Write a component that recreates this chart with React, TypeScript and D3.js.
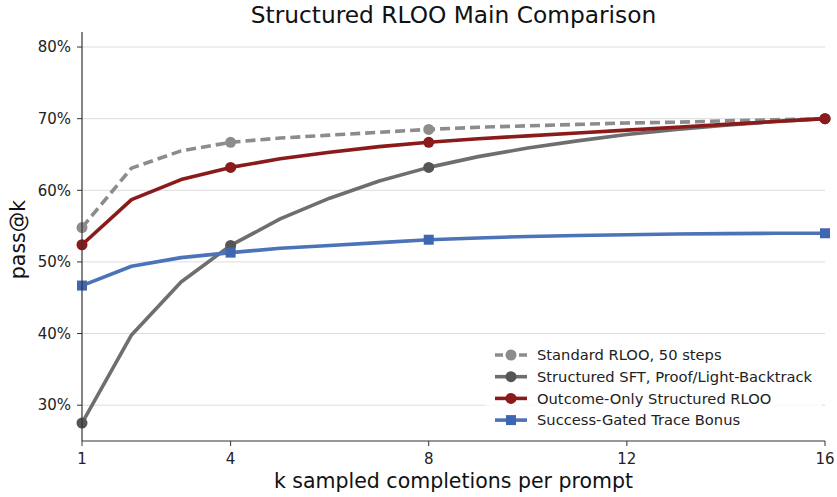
import React from "react";
import * as d3 from "d3";

const kValues = [1, 2, 3, 4, 5, 6, 7, 8, 9, 10, 11, 12, 13, 14, 15, 16];
const standardRloo = [54.8, 63.1, 65.5, 66.7, 67.3, 67.7, 68.1, 68.5, 68.8, 69.0, 69.2, 69.4, 69.5, 69.7, 69.85, 70.0];
const structuredSft = [27.5, 39.8, 47.2, 52.3, 56.0, 58.9, 61.3, 63.2, 64.7, 65.9, 66.9, 67.8, 68.5, 69.1, 69.6, 70.0];
const outcomeOnly = [52.4, 58.7, 61.5, 63.2, 64.4, 65.3, 66.1, 66.7, 67.2, 67.6, 68.0, 68.4, 68.8, 69.2, 69.6, 70.0];
const successGated = [46.7, 49.4, 50.6, 51.3, 51.9, 52.3, 52.7, 53.1, 53.35, 53.55, 53.7, 53.8, 53.9, 53.95, 54.0, 54.0];
const markerKs = [1, 4, 8, 16];
const xTicks = [1, 4, 8, 12, 16];
const yTicks = [30, 40, 50, 60, 70, 80];

const seriesNames = [
  "Standard RLOO, 50 steps",
  "Structured SFT, Proof/Light-Backtrack",
  "Outcome-Only Structured RLOO",
  "Success-Gated Trace Bonus",
];

const W = 837;
const H = 497;
const M = { left: 82, right: 825, top: 32, bottom: 441 };

export default function App() {
  const x = d3.scaleLinear().domain([1, 16]).range([M.left, M.right]);
  const y = d3.scaleLinear().domain([25, 82.1]).range([M.bottom, M.top]);
  const font = "DejaVu Sans, Verdana, sans-serif";

  const series = [
    { name: seriesNames[0], values: standardRloo, color: "#8c8c8c", marker: "#8c8c8c", dash: "10,5", shape: "circle" },
    { name: seriesNames[1], values: structuredSft, color: "#6e6e6e", marker: "#555555", dash: undefined, shape: "circle" },
    { name: seriesNames[2], values: outcomeOnly, color: "#8b1a1a", marker: "#8b1a1a", dash: undefined, shape: "circle" },
    { name: seriesNames[3], values: successGated, color: "#4c72b8", marker: "#3f66b0", dash: undefined, shape: "square" },
  ];

  const line = d3
    .line<number>()
    .x((_, i) => x(kValues[i]))
    .y((v) => y(v));

  const marker = (s: any, k: number, v: number, key: string) => {
    const cx = x(k);
    const cy = y(v);
    if (s.shape === "square") {
      return <rect key={key} x={cx - 5} y={cy - 5} width={10} height={10} fill={s.marker} />;
    }
    return <circle key={key} cx={cx} cy={cy} r={5.5} fill={s.marker} />;
  };

  const legendX = 495;
  const legendY0 = 355;
  const legendDy = 21.7;

  return (
    <svg width={W} height={H} style={{ position: "absolute", left: 0, top: 0, background: "#fff" }} fontFamily={font}>
      <text x={(M.left + M.right) / 2} y={23} textAnchor="middle" fontSize={23.3} fill="#111">
        Structured RLOO Main Comparison
      </text>
      {yTicks.map((t) => (
        <line key={"g" + t} x1={M.left} x2={M.right} y1={y(t)} y2={y(t)} stroke="#dddddd" strokeWidth={1} />
      ))}
      {series.map((s, si) => (
        <g key={si}>
          <path d={line(s.values) || ""} fill="none" stroke={s.color} strokeWidth={3.6} strokeDasharray={s.dash} strokeLinejoin="round" />
          {markerKs.map((k) => marker(s, k, s.values[kValues.indexOf(k)], si + "-" + k))}
        </g>
      ))}
      <line x1={M.left} x2={M.left} y1={M.top} y2={M.bottom} stroke="#333" strokeWidth={1.2} />
      <line x1={M.left} x2={M.right} y1={M.bottom} y2={M.bottom} stroke="#333" strokeWidth={1.2} />
      {yTicks.map((t) => (
        <g key={"yt" + t}>
          <line x1={M.left - 5} x2={M.left} y1={y(t)} y2={y(t)} stroke="#333" strokeWidth={1} />
          <text x={M.left - 11} y={y(t)} dy="0.35em" textAnchor="end" fontSize={15} fill="#222">
            {t}%
          </text>
        </g>
      ))}
      {xTicks.map((t) => (
        <g key={"xt" + t}>
          <line x1={x(t)} x2={x(t)} y1={M.bottom} y2={M.bottom + 5} stroke="#333" strokeWidth={1} />
          <text x={x(t)} y={M.bottom + 23} textAnchor="middle" fontSize={15} fill="#222">
            {t}
          </text>
        </g>
      ))}
      <text x={(M.left + M.right) / 2} y={488} textAnchor="middle" fontSize={20.5} fill="#111">
        k sampled completions per prompt
      </text>
      <text transform={`translate(25,${(M.top + M.bottom) / 2 + 3}) rotate(-90)`} textAnchor="middle" fontSize={20.5} fill="#111">
        pass@k
      </text>
      <rect x={485} y={341} width={337} height={94} fill="#fff" opacity={0.8} />
      {series.map((s, si) => {
        const ly = legendY0 + si * legendDy;
        return (
          <g key={"lg" + si}>
            <line x1={legendX} x2={legendX + 32} y1={ly} y2={ly} stroke={s.color} strokeWidth={3.6} strokeDasharray={s.dash ? "8,4" : undefined} />
            {s.shape === "square" ? (
              <rect x={legendX + 16 - 5} y={ly - 5} width={10} height={10} fill={s.marker} />
            ) : (
              <circle cx={legendX + 16} cy={ly} r={5.5} fill={s.marker} />
            )}
            <text x={legendX + 42} y={ly} dy="0.35em" fontSize={14.7} fill="#222">
              {s.name}
            </text>
          </g>
        );
      })}
    </svg>
  );
}
